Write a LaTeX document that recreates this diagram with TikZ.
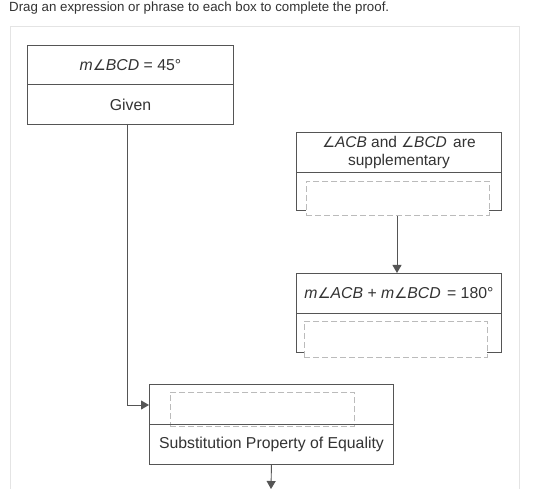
\documentclass[tikz,border=0pt]{standalone}
\usepackage{fontspec}
\setmainfont{Liberation Sans}
\newfontfamily\symf{DejaVu Sans}[Scale=0.92]
\usetikzlibrary{arrows.meta}
\definecolor{txt}{HTML}{333333}
\definecolor{bord}{HTML}{555555}
\definecolor{dash}{HTML}{BBBBBB}
\definecolor{frame}{HTML}{E4E4E4}
\newcommand{\ang}{{\symf\itshape ∠}}
\tikzset{
  cell/.style={draw=bord, line width=0.9pt, rectangle, inner sep=0pt, text=txt,
    font=\fontsize{15.8}{18}\selectfont, align=center, anchor=north west},
  slot/.style={draw=dash, fill=white, dashed, dash pattern=on 6pt off 3pt, line width=0.9pt,
    rectangle, inner sep=0pt, anchor=north west},
  conn/.style={draw=bord, line width=0.9pt},
  arr/.style={conn, -{Triangle[length=8pt,width=9pt]}}
}
\begin{document}
\begin{tikzpicture}[x=1pt,y=-1pt]
\useasboundingbox (0,0) rectangle (549,489);
\fill[white] (0,0) rectangle (549,489);
% header
\node[anchor=west, text=txt, font=\fontsize{13.3}{15}\selectfont, inner sep=0pt] (hdr) at (9,8) {Drag an expression or phrase to each box to complete the proof.};
% frame
\draw[frame, line width=0.8pt] (10,26) rectangle (519,500);
% box 1
\node[cell, minimum width=206pt, minimum height=39pt] (b1t) at (27,45) {\textit{m}\ang\textit{BCD} = 45°};
\node[cell, minimum width=206pt, minimum height=40pt] (b1b) at (27,84) {Given};
% box 2
\node[cell, minimum width=205pt, minimum height=40pt, font=\fontsize{15.5}{17.5}\selectfont] (b2t) at (296,132) {\ang\textit{ACB} and \ang\textit{BCD}\hspace{2pt} are\\supplementary};
\node[cell, minimum width=205pt, minimum height=38pt] (b2b) at (296,172) {};
\node[slot, minimum width=183pt, minimum height=34pt] (s2) at (306,181) {};
% box 3
\node[cell, minimum width=205pt, minimum height=40pt] (b3t) at (296,273) {\textit{m}\ang\textit{ACB} + \textit{m}\ang\textit{BCD}\hspace{2pt} = 180°};
\node[cell, minimum width=205pt, minimum height=39pt] (b3b) at (296,313) {};
\node[slot, minimum width=183pt, minimum height=36pt] (s3) at (304,321) {};
% box 4
\node[cell, minimum width=244pt, minimum height=40pt] (b4t) at (149,384) {};
\node[slot, minimum width=184pt, minimum height=34pt] (s4) at (170,392) {};
\node[cell, minimum width=244pt, minimum height=40pt] (b4b) at (149,424) {Substitution Property of Equality};
% connectors
\coordinate (c1) at (127,124);
\coordinate (c1b) at (127,405);
\draw[arr] (c1) -- (c1b) -- (b4t.west |- c1b);
\draw[arr] (s2.south -| 397,0) -- (b3t.north -| 397,0);
\coordinate (endp) at (271,489);
\draw[arr] (b4b.south) -- (endp);
\end{tikzpicture}
\end{document}
